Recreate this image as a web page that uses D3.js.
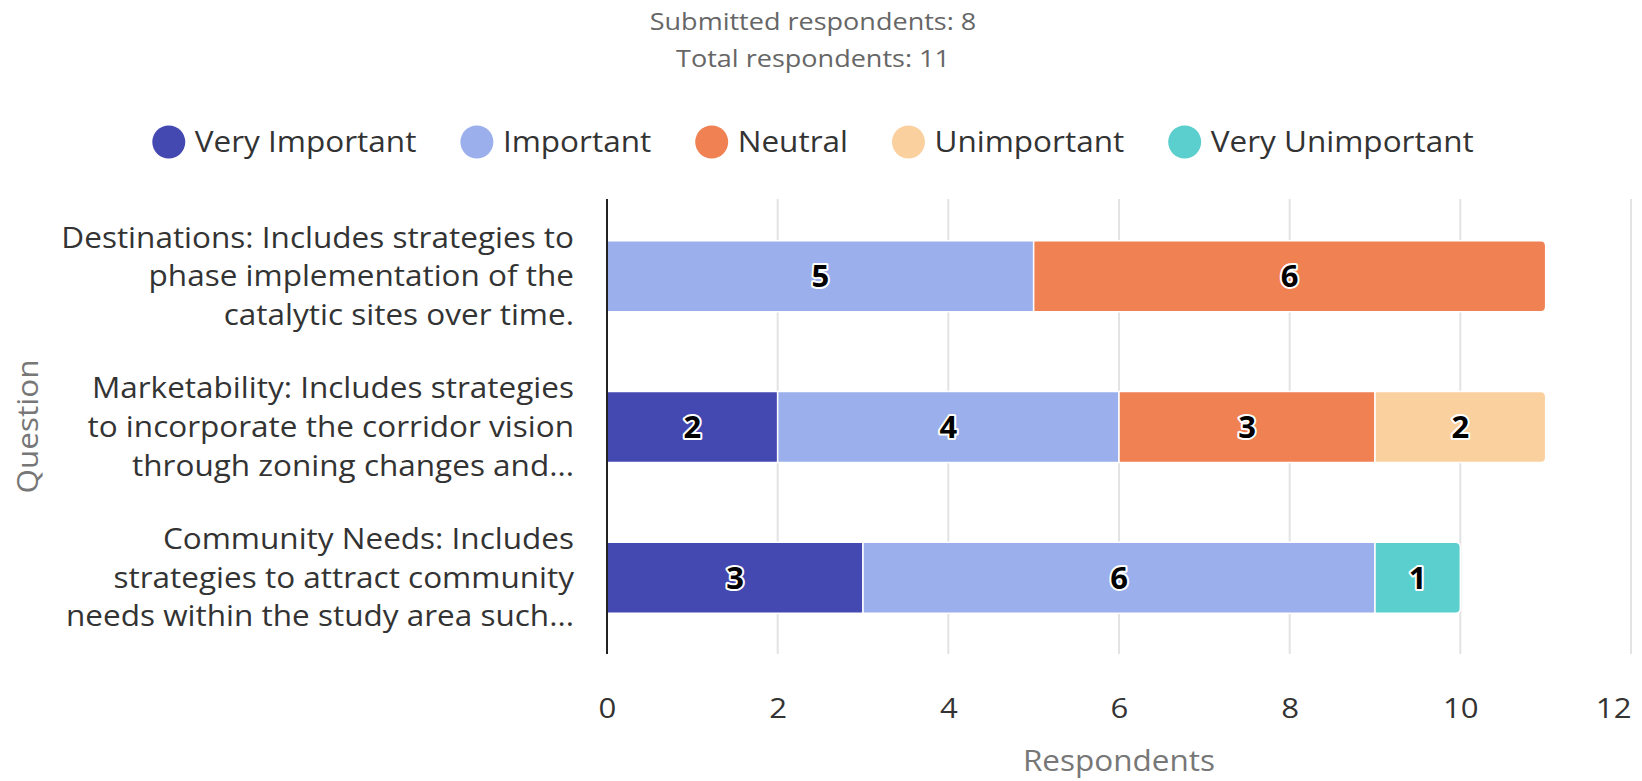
<!DOCTYPE html>
<html>
<head>
<meta charset="utf-8">
<script src="https://cdn.jsdelivr.net/npm/d3@7"></script>
<style>
  html, body { margin: 0; padding: 0; background: #fff; }
  svg { display: block; }
  text { font-family: "Open Sans", "Noto Sans", sans-serif; }
</style>
</head>
<body>
<svg id="chart" width="1642" height="781"></svg>
<script>
// ---- data ----
const titleLines = ["Submitted respondents: 8", "Total respondents: 11"];
const categories = [
  ["Destinations: Includes strategies to", "phase implementation of the", "catalytic sites over time."],
  ["Marketability: Includes strategies", "to incorporate the corridor vision", "through zoning changes and..."],
  ["Community Needs: Includes", "strategies to attract community", "needs within the study area such..."]
];
const seriesNames = ["Very Important", "Important", "Neutral", "Unimportant", "Very Unimportant"];
const seriesColors = ["#4449B1", "#9AAFEC", "#EF8153", "#FAD09F", "#5BCECE"];
const veryImportant   = [0, 2, 3];
const important       = [5, 4, 6];
const neutral         = [6, 3, 0];
const unimportant     = [0, 2, 0];
const veryUnimportant = [0, 0, 1];
const xTicks = [0, 2, 4, 6, 8, 10, 12];
const xAxisTitle = "Respondents";
const yAxisTitle = "Question";

const seriesValues = [veryImportant, important, neutral, unimportant, veryUnimportant];

// ---- layout ----
const W = 1642, H = 781;
const plot = { left: 607, right: 1631, top: 199, bottom: 654 };
const centerX = 813;
const SX = 1.113;           // horizontal widening to approximate Segoe UI proportions
const stretch = `scale(${SX},1)`;

const svg = d3.select("#chart");

// title
svg.selectAll("g.title").data(titleLines).enter().append("g")
  .attr("class", "title")
  .attr("transform", (d, i) => `translate(${centerX},${21 + i * 37})`)
  .append("text")
  .attr("transform", stretch)
  .attr("dy", "0.35em")
  .attr("text-anchor", "middle")
  .attr("fill", "#666")
  .style("font-size", "24.3px")
  .text(d => d);

// legend
const legend = svg.append("g");
const legendFont = 28.3, legendR = 16.5, legendGapText = 9.5, legendGapItem = 44;
let lx = 0;
seriesNames.forEach((name, i) => {
  const g = legend.append("g");
  g.append("circle").attr("cx", legendR).attr("cy", 0).attr("r", legendR).attr("fill", seriesColors[i]);
  const t = g.append("g").attr("transform", `translate(${legendR * 2 + legendGapText},0)`)
    .append("text").attr("transform", stretch).attr("dy", "0.35em")
    .attr("fill", "#333").style("font-size", legendFont + "px").text(name);
  const w = legendR * 2 + legendGapText + t.node().getComputedTextLength() * SX;
  g.attr("transform", `translate(${lx},0)`);
  lx += w + legendGapItem;
});
const legendWidth = lx - legendGapItem;
legend.attr("transform", `translate(${centerX - legendWidth / 2},142)`);

// scales
const x = d3.scaleLinear().domain([0, 12]).range([plot.left, plot.right]);
const y = d3.scaleBand().domain(d3.range(categories.length))
  .range([201, 653]).paddingInner(0.529).paddingOuter(0.2645);

// gridlines
svg.append("g").selectAll("line").data(xTicks.filter(t => t !== 0)).enter().append("line")
  .attr("x1", d => x(d)).attr("x2", d => x(d))
  .attr("y1", plot.top).attr("y2", plot.bottom)
  .attr("stroke", "#e3e3e3").attr("stroke-width", 2);

// stacked data
const rows = categories.map((c, i) => {
  let acc = 0;
  const segs = [];
  seriesValues.forEach((vals, s) => {
    const v = vals[i];
    if (v > 0) { segs.push({ s, v, x0: acc, x1: acc + v, row: i }); }
    acc += v;
  });
  if (segs.length) segs[segs.length - 1].last = true;
  return segs;
});
const segments = rows.flat();

function segPath(d) {
  const x0 = x(d.x0), x1 = x(d.x1), y0 = y(d.row), y1 = y(d.row) + y.bandwidth();
  const r = d.last ? 5 : 0;
  return `M${x0},${y0}H${x1 - r}` +
    (r ? `Q${x1},${y0} ${x1},${y0 + r}V${y1 - r}Q${x1},${y1} ${x1 - r},${y1}` : `V${y1}`) +
    `H${x0}Z`;
}

svg.append("g").selectAll("path").data(segments).enter().append("path")
  .attr("d", segPath)
  .attr("fill", d => seriesColors[d.s])
  .attr("stroke", "#fff").attr("stroke-width", 1.5);

// bar labels
svg.append("g").selectAll("text").data(segments).enter().append("text")
  .attr("x", d => x((d.x0 + d.x1) / 2))
  .attr("y", d => y(d.row) + y.bandwidth() / 2)
  .attr("dy", "0.36em")
  .attr("text-anchor", "middle")
  .style("font-size", "31px").style("font-weight", "bold")
  .attr("fill", "#000").attr("stroke", "#fff").attr("stroke-width", 4)
  .attr("stroke-linejoin", "round").attr("paint-order", "stroke")
  .text(d => d.v);

// y axis line
svg.append("line").attr("x1", plot.left).attr("x2", plot.left)
  .attr("y1", plot.top).attr("y2", plot.bottom)
  .attr("stroke", "#222").attr("stroke-width", 2);

// y labels
const lineH = 38.7;
const yl = svg.append("g").selectAll("g").data(categories).enter().append("g")
  .attr("transform", (d, i) => `translate(574,${y(i) + y.bandwidth() / 2})`)
  .append("text")
  .attr("transform", stretch)
  .attr("text-anchor", "end").attr("fill", "#333").style("font-size", "28.3px");
yl.each(function(lines) {
  d3.select(this).selectAll("tspan").data(lines).enter().append("tspan")
    .attr("x", 0)
    .attr("y", (l, j) => (j - (lines.length - 1) / 2) * lineH)
    .attr("dy", "0.35em")
    .text(l => l);
});

// x axis
const xAxis = d3.axisBottom(x).tickValues(xTicks).tickSize(0).tickPadding(0).tickFormat(d3.format("d"));
const xg = svg.append("g").attr("transform", `translate(0,708)`).call(xAxis);
xg.select(".domain").remove();
xg.selectAll("text").attr("dy", "0.35em").attr("y", 0).attr("fill", "#333")
  .attr("transform", stretch)
  .style("font-size", "28px").style("font-family", '"Open Sans", "Noto Sans", sans-serif')
  .attr("text-anchor", d => d === 12 ? "end" : "middle");

// axis titles
svg.append("g").attr("transform", `translate(${(plot.left + plot.right) / 2},761)`)
  .append("text").attr("transform", stretch).attr("dy", "0.35em")
  .attr("text-anchor", "middle").attr("fill", "#777").style("font-size", "28.3px").text(xAxisTitle);
svg.append("g").attr("transform", `translate(28,${(plot.top + plot.bottom) / 2}) rotate(-90)`)
  .append("text").attr("transform", stretch)
  .attr("dy", "0.35em").attr("text-anchor", "middle").attr("fill", "#777").style("font-size", "28.3px")
  .text(yAxisTitle);
</script>
</body>
</html>
